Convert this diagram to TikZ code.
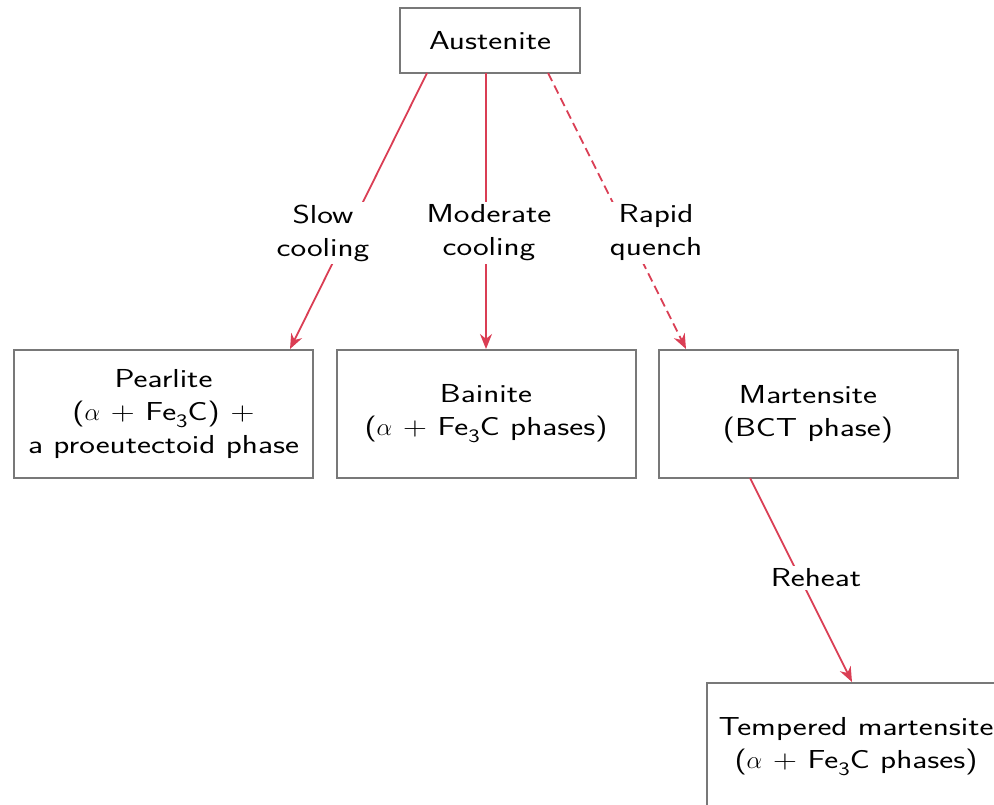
\documentclass[tikz,border=0pt]{standalone}
\usepackage{fontspec}
\setsansfont{Latin Modern Sans}[FakeStretch=1.28]
\usetikzlibrary{arrows.meta}
\definecolor{arrred}{RGB}{218,62,84}
\definecolor{boxgray}{RGB}{120,120,120}
\newcommand{\fesub}{Fe\raisebox{-7pt}{\fontsize{19}{19}\selectfont 3}C}
\begin{document}
\begin{tikzpicture}[x=1pt,y=-1pt,
  every node/.style={font=\sffamily\fontsize{26}{33}\selectfont, align=center},
  phase/.style={draw=boxgray, line width=2pt, fill=white, minimum width=299pt, minimum height=128pt, inner sep=0pt},
  conn/.style={draw=arrred, line width=1.8pt, -{Stealth[length=15pt,width=12pt]}},
  lbl/.style={fill=white, inner sep=3pt}]
\useasboundingbox (0,0) rectangle (994,805);
\clip (0,0) rectangle (994,805);
\node[phase, minimum width=180pt, minimum height=65pt] (aus) at (490,40.5) {Austenite};
\node[phase] (pea) at (163.5,414) {Pearlite\\($\alpha$ + \fesub) +\\a proeutectoid phase};
\node[phase] (bai) at (486,414) {Bainite\\($\alpha$ + \fesub{} phases)};
\node[phase] (mar) at (808,414) {Martensite\\(BCT phase)};
\node[phase] (tem) at (856,747) {Tempered martensite\\($\alpha$ + \fesub{} phases)};
\coordinate (a1) at (427,73);
\coordinate (a2) at (486,73);
\coordinate (a3) at (548,73);
\coordinate (m1) at (750,478);
\draw[conn] (a1) -- (pea.north -| 290,0);
\draw[conn] (a2) -- (bai.north -| 486,0);
\draw[conn, dash pattern=on 9pt off 5pt] (a3) -- (mar.north -| 686,0);
\draw[conn] (m1) -- (tem.north -| 852,0);
\node[lbl] (l1) at (323,233) {Slow\\cooling};
\node[lbl] (l2) at (489,233) {Moderate\\cooling};
\node[lbl] (l3) at (656,233) {Rapid\\quench};
\node[lbl] (l4) at (816,578) {Reheat};
\end{tikzpicture}
\end{document}
